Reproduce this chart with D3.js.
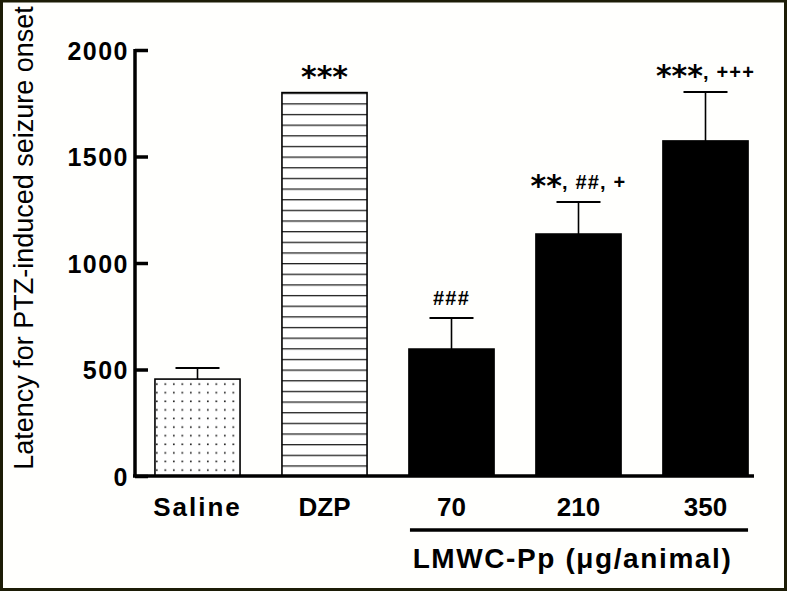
<!DOCTYPE html>
<html><head><meta charset="utf-8">
<script src="https://cdn.jsdelivr.net/npm/d3@7"></script>
<style>
html,body{margin:0;padding:0;background:#fff;}
svg{display:block;}
</style></head>
<body>
<svg id="chart" width="787" height="591"></svg>
<script>
const categories = ["Saline", "DZP", "70", "210", "350"];
const means = [455, 1800, 596, 1136, 1573];
const sems = [52, 0, 146, 150, 230];
const fills = ["dots", "lines", "solid", "solid", "solid"];
const annotations = [
  [],
  [["***", "star"]],
  [["###", "hash"]],
  [["**", "star"], [", ##, +", "hash"]],
  [["***", "star"], [", +++", "hash"]]
];
const yTicks = [0, 500, 1000, 1500, 2000];
const yTitle = "Latency for PTZ-induced seizure onset";
const groupLabel = "LMWC-Pp (\u03bcg/animal)";
const groupMembers = ["70", "210", "350"];

const svg = d3.select("#chart");
const font = "Arial, 'Liberation Sans', sans-serif";

// frame
svg.append("rect").attr("x", 0).attr("y", 0).attr("width", 787).attr("height", 591).attr("fill", "#fffffd");
svg.append("rect").attr("x", 1.5).attr("y", 1).attr("width", 784).attr("height", 588.5)
  .attr("fill", "none").attr("stroke", "#1c1c06").attr("stroke-width", 3);

const y = d3.scaleLinear().domain([0, 2000]).range([476, 50]);
const x = d3.scaleBand().domain(categories).range([134, 769]).paddingInner(0.33).paddingOuter(0.165);

const defs = svg.append("defs");
const dots = defs.append("pattern").attr("id", "dots").attr("patternUnits", "userSpaceOnUse")
  .attr("width", 8.5).attr("height", 8.6).attr("x", 155).attr("y", 379);
dots.append("rect").attr("width", 8.5).attr("height", 8.6).attr("fill", "#fff");
dots.append("rect").attr("x", 1).attr("y", 8.3-4).attr("width", 1.6).attr("height", 1.6).attr("fill", "#111");
const lines = defs.append("pattern").attr("id", "lines").attr("patternUnits", "userSpaceOnUse")
  .attr("width", 10).attr("height", 10.65).attr("x", 0).attr("y", y(0));
lines.append("rect").attr("width", 10).attr("height", 10.65).attr("fill", "#fff");
lines.append("line").attr("x1", 0).attr("x2", 10).attr("y1", 0.5).attr("y2", 0.5).attr("stroke", "#222").attr("stroke-width", 1.6);

const fillOf = f => f === "dots" ? "url(#dots)" : f === "lines" ? "url(#lines)" : "#000";

// error bars
const eb = svg.append("g");
categories.forEach((c, i) => {
  if (!sems[i]) return;
  const cx = x(c) + x.bandwidth() / 2;
  eb.append("line").attr("x1", cx).attr("x2", cx).attr("y1", y(means[i])).attr("y2", y(means[i] + sems[i]))
    .attr("stroke", "#000").attr("stroke-width", 1.6);
  eb.append("line").attr("x1", cx - 22).attr("x2", cx + 22).attr("y1", y(means[i] + sems[i])).attr("y2", y(means[i] + sems[i]))
    .attr("stroke", "#000").attr("stroke-width", 2);
});

// bars
svg.append("g").selectAll("rect").data(categories).join("rect")
  .attr("x", d => x(d)).attr("width", x.bandwidth())
  .attr("y", (d, i) => y(means[i])).attr("height", (d, i) => y(0) - y(means[i]))
  .attr("fill", (d, i) => fillOf(fills[i]))
  .attr("stroke", "#000").attr("stroke-width", 1.6);

// y axis
const yAxis = d3.axisLeft(y).tickValues(yTicks).tickFormat(d3.format("d")).tickSize(-13).tickPadding(6);
const gy = svg.append("g").attr("transform", "translate(135,0)").call(yAxis);
gy.select(".domain").attr("stroke", "#000").attr("stroke-width", 3.5).attr("d", `M0,${y(2000)-1}V${y(0)+1}`);
gy.selectAll(".tick line").attr("stroke", "#000").attr("stroke-width", 3.5);
gy.selectAll(".tick text").attr("font-family", font).attr("font-weight", "bold").attr("font-size", 25)
  .attr("letter-spacing", 1.5).attr("fill", "#000").attr("dy", "0.36em");

// x baseline
svg.append("line").attr("x1", 133).attr("x2", 754).attr("y1", y(0)).attr("y2", y(0))
  .attr("stroke", "#000").attr("stroke-width", 3.5);

// x labels
const xAxis = d3.axisBottom(x).tickSize(0).tickPadding(0);
const gx = svg.append("g").attr("transform", `translate(0,${y(0)})`).call(xAxis);
gx.select(".domain").remove();
gx.selectAll(".tick text").attr("font-family", font).attr("font-weight", "bold").attr("font-size", 26)
  .attr("fill", "#000").attr("y", 40).attr("dy", 0)
  .attr("letter-spacing", d => d === "Saline" ? 2 : 0);

// group bracket
const gx0 = x(groupMembers[0]), gx1 = x(groupMembers[groupMembers.length - 1]) + x.bandwidth();
svg.append("line").attr("x1", gx0 + 1).attr("x2", gx1).attr("y1", 530).attr("y2", 530)
  .attr("stroke", "#000").attr("stroke-width", 3.5);
svg.append("text").attr("x", (gx0 + gx1) / 2 - 6).attr("y", 568).attr("text-anchor", "middle")
  .attr("font-family", font).attr("font-weight", "bold").attr("font-size", 28)
  .attr("letter-spacing", 1.6).text(groupLabel);

// y title
svg.append("text").attr("transform", `translate(33,238) rotate(-90)`).attr("text-anchor", "middle")
  .attr("font-family", font).attr("font-size", 27).attr("fill", "#000").text(yTitle);

// annotations
categories.forEach((c, i) => {
  if (!annotations[i].length) return;
  const cx = x(c) + x.bandwidth() / 2;
  const top = y(means[i] + sems[i]);
  const t = svg.append("text").attr("x", cx).attr("y", top - 13).attr("text-anchor", "middle")
    .attr("font-weight", "bold").attr("fill", "#000");
  let shift = 0;
  const starDrop = 7;
  annotations[i].forEach(([s, kind]) => {
    if (kind === "star") {
      t.append("tspan").attr("font-family", "'DejaVu Sans', sans-serif").attr("font-size", 30)
        .attr("dy", starDrop - shift).text(s);
      shift = starDrop;
    } else {
      t.append("tspan").attr("font-family", font).attr("font-size", 20).attr("letter-spacing", 1.2)
        .attr("dy", -shift).text(s);
      shift = 0;
    }
  });
});
</script>
</body></html>
